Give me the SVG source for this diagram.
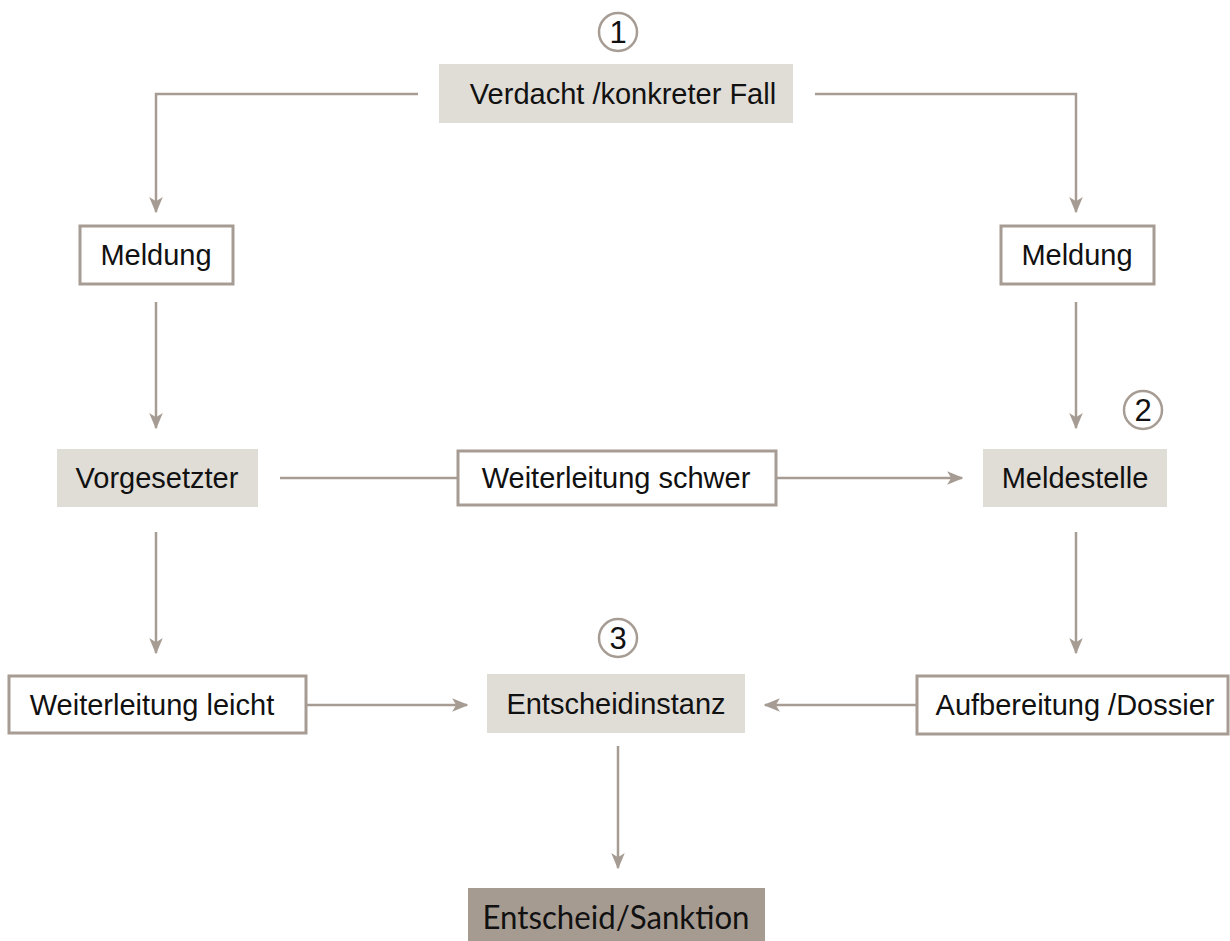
<svg xmlns="http://www.w3.org/2000/svg" width="1230" height="941" viewBox="0 0 1230 941">
<defs>
<style>
.t{font-family:"Liberation Sans",Arial,sans-serif;font-size:29px;fill:#111;text-anchor:middle}
.n{font-family:"Liberation Sans",Arial,sans-serif;font-size:31px;fill:#111;text-anchor:middle}
.tc{font-family:Lato,"Open Sans",sans-serif;font-size:32px;fill:#111;text-anchor:middle}
.fill{fill:#E0DCD6;stroke:none}
.out{fill:#fff;stroke:#A69C93;stroke-width:3}
.dark{fill:#A69B91;stroke:none}
.num{fill:#fff;stroke:#A69C93;stroke-width:2.5}
.c{fill:none;stroke:#A69C93;stroke-width:2.5}
</style>
<marker id="ah" viewBox="0 0 12 10" refX="11" refY="5" markerWidth="6.5" markerHeight="5.5" markerUnits="strokeWidth" orient="auto">
<path d="M0,0 L12,5 L0,10 L3,5 z" fill="#A69C93"/>
</marker>
</defs>
<rect width="1230" height="941" fill="#fff"/>
<g id="connectors">
<path class="c" d="M418,94 H156 V212" marker-end="url(#ah)"/>
<path class="c" d="M815,94 H1076 V212" marker-end="url(#ah)"/>
<path class="c" d="M156,302 V428" marker-end="url(#ah)"/>
<path class="c" d="M1076,302 V428" marker-end="url(#ah)"/>
<path class="c" d="M280,478 H458"/>
<path class="c" d="M776,478 H962" marker-end="url(#ah)"/>
<path class="c" d="M156,532 V653" marker-end="url(#ah)"/>
<path class="c" d="M1076,532 V653" marker-end="url(#ah)"/>
<path class="c" d="M307,705 H467" marker-end="url(#ah)"/>
<path class="c" d="M917,705 H765" marker-end="url(#ah)"/>
<path class="c" d="M618,746 V868" marker-end="url(#ah)"/>
</g>
<g id="n1">
<circle class="num" cx="618" cy="32" r="19"/>
<text class="n" x="618" y="43">1</text>
</g>
<g id="verdacht">
<rect class="fill" x="439" y="64" width="354" height="59"/>
<text class="t" x="623" y="104">Verdacht /konkreter Fall</text>
</g>
<g id="meldung-l">
<rect class="out" x="80" y="226" width="153" height="58"/>
<text class="t" x="156" y="265">Meldung</text>
</g>
<g id="meldung-r">
<rect class="out" x="1001" y="226" width="153" height="58"/>
<text class="t" x="1077" y="265">Meldung</text>
</g>
<g id="vorgesetzter">
<rect class="fill" x="57" y="449" width="201" height="58"/>
<text class="t" x="157" y="488">Vorgesetzter</text>
</g>
<g id="weiterleitung-schwer">
<rect class="out" x="458" y="451" width="318" height="54"/>
<text class="t" x="616" y="488">Weiterleitung schwer</text>
</g>
<g id="n2">
<circle class="num" cx="1143" cy="410" r="19"/>
<text class="n" x="1143" y="421">2</text>
</g>
<g id="meldestelle">
<rect class="fill" x="983" y="449" width="184" height="58"/>
<text class="t" x="1075" y="488">Meldestelle</text>
</g>
<g id="weiterleitung-leicht">
<rect class="out" x="9" y="676" width="297" height="57"/>
<text class="t" x="152" y="715">Weiterleitung leicht</text>
</g>
<g id="n3">
<circle class="num" cx="618" cy="638" r="19"/>
<text class="n" x="618" y="649">3</text>
</g>
<g id="entscheidinstanz">
<rect class="fill" x="487" y="674" width="258" height="59"/>
<text class="t" x="616" y="714">Entscheidinstanz</text>
</g>
<g id="aufbereitung">
<rect class="out" x="917" y="676" width="311" height="58"/>
<text class="t" x="1075" y="715">Aufbereitung /Dossier</text>
</g>
<g id="entscheid">
<rect class="dark" x="468" y="888" width="297" height="53"/>
<text class="tc" x="616" y="929" textLength="267" lengthAdjust="spacingAndGlyphs">Entscheid/Sanktion</text>
</g>
</svg>
